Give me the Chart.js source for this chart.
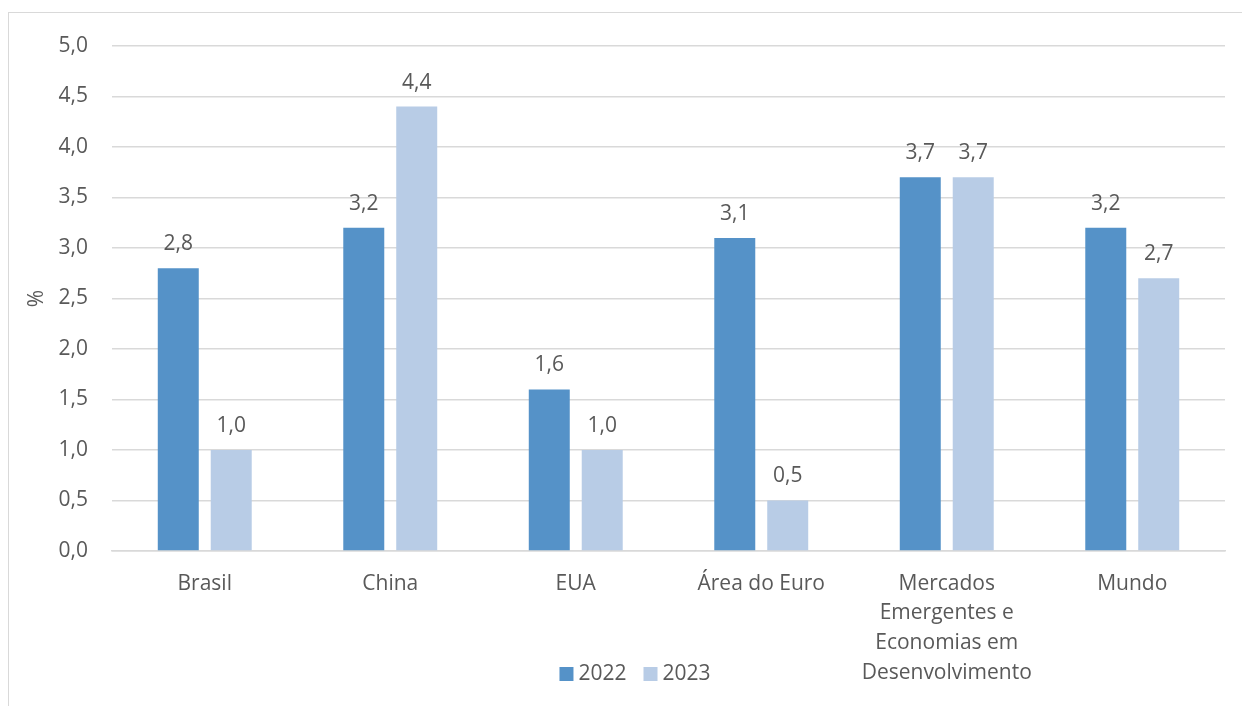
<!DOCTYPE html>
<html>
<head>
<meta charset="utf-8">
<script src="https://cdn.jsdelivr.net/npm/chart.js@4.4.0/dist/chart.umd.min.js"></script>
<style>
  body { margin: 0; background: #fff; overflow: hidden; }
  #frame { position: absolute; left: 8px; top: 12px; width: 1300px; height: 800px; border: 1px solid #D9D9D9; }
  #wrap { position: absolute; left: 0; top: 0; width: 1242px; height: 706px; }
</style>
</head>
<body>
<div id="frame"></div>
<div id="wrap"><canvas id="chart"></canvas></div>
<script>
// categories and series
const categories = [
    'Brasil',
    'China',
    'EUA',
    'Área do Euro',
    ['Mercados', 'Emergentes e', 'Economias em', 'Desenvolvimento'],
    'Mundo'
];
const values2022 = [2.8, 3.2, 1.6, 3.1, 3.7, 3.2];
const values2023 = [1.0, 4.4, 1.0, 0.5, 3.7, 2.7];
const seriesLabels = ['2022', '2023'];
const seriesColors = ['#5592C8', '#B8CCE6'];

const fontFamily = '"Open Sans", Lato, sans-serif';
const fontSize = 21;
const textColor = '#595959';

function fmt(v) {
    return v.toFixed(1).replace('.', ',');
}

// value labels above bars
const barLabels = {
    id: 'barLabels',
    afterDatasetsDraw(chart) {
        const ctx = chart.ctx;
        ctx.save();
        ctx.font = fontSize + 'px ' + fontFamily;
        ctx.fillStyle = textColor;
        ctx.textAlign = 'center';
        ctx.textBaseline = 'middle';
        chart.data.datasets.forEach((ds, i) => {
            chart.getDatasetMeta(i).data.forEach((bar, j) => {
                ctx.fillText(fmt(ds.data[j]), bar.x, bar.y - 24);
            });
        });
        ctx.restore();
    }
};

// legend drawn near the bottom, like the original
const bottomLegend = {
    id: 'bottomLegend',
    afterDraw(chart) {
        const ctx = chart.ctx;
        ctx.save();
        ctx.font = fontSize + 'px ' + fontFamily;
        ctx.textBaseline = 'middle';
        const box = 14, gap = 5, itemGap = 17;
        const items = chart.data.datasets.map(ds => ({ label: ds.label, color: ds.backgroundColor }));
        let total = 0;
        items.forEach((it, k) => {
            it.w = box + gap + ctx.measureText(it.label).width;
            total += it.w + (k ? itemGap : 0);
        });
        let x = 635 - total / 2;
        const y = 674;
        items.forEach(it => {
            ctx.fillStyle = it.color;
            ctx.fillRect(x, y - box / 2, box, box);
            ctx.fillStyle = textColor;
            ctx.textAlign = 'left';
            ctx.fillText(it.label, x + box + gap, y);
            x += it.w + itemGap;
        });
        ctx.restore();
    }
};

new Chart(document.getElementById('chart'), {
    type: 'bar',
    data: {
        labels: categories,
        datasets: [
            { label: seriesLabels[0], data: values2022, backgroundColor: seriesColors[0] },
            { label: seriesLabels[1], data: values2023, backgroundColor: seriesColors[1] }
        ]
    },
    options: {
        responsive: true,
        maintainAspectRatio: false,
        animation: false,
        categoryPercentage: 0.571,
        barPercentage: 0.774,
        layout: { padding: { left: 24, top: 46, right: 17, bottom: 0 } },
        plugins: {
            legend: { display: false },
            tooltip: { enabled: false }
        },
        scales: {
            x: {
                grid: { display: false, drawTicks: false },
                border: { color: '#D9D9D9', width: 1.5 },
                ticks: {
                    color: textColor,
                    font: { family: fontFamily, size: fontSize, lineHeight: 1.41 },
                    padding: 18,
                    maxRotation: 0,
                    autoSkip: false
                },
                afterFit(scale) { scale.height = 155; }
            },
            y: {
                min: 0,
                max: 5,
                border: { display: false },
                grid: { color: '#D9D9D9', lineWidth: 1.5, drawTicks: false },
                ticks: {
                    stepSize: 0.5,
                    color: textColor,
                    padding: 24,
                    font: { family: fontFamily, size: fontSize },
                    callback: v => fmt(v)
                },
                title: {
                    display: true,
                    text: '%',
                    color: textColor,
                    padding: 0,
                    font: { family: fontFamily, size: fontSize }
                },
                afterFit(scale) { scale.width = 88; }
            }
        }
    },
    plugins: [barLabels, bottomLegend]
});
</script>
</body>
</html>
